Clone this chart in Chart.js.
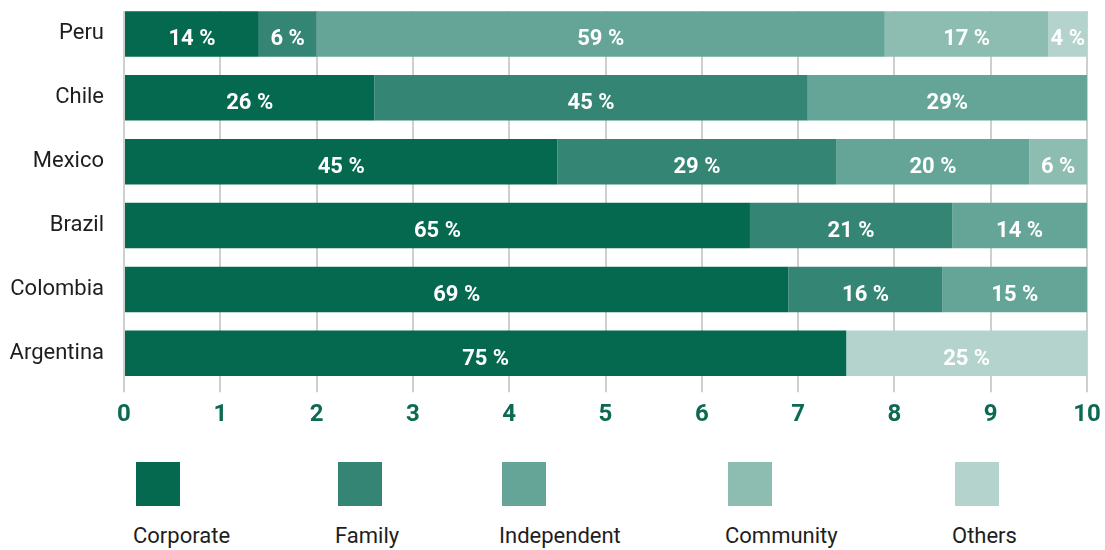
<!DOCTYPE html>
<html>
<head>
<meta charset="utf-8">
<title>Ownership structure by country</title>
<script src="https://cdn.jsdelivr.net/npm/chart.js@4.4.1/dist/chart.umd.min.js"></script>
<style>
  body { margin: 0; background: #fff; font-family: Roboto, sans-serif; }
  .page { position: relative; width: 1105px; height: 550px; overflow: hidden; }
  /* clip the bit of grid that would poke out above the first bar */
  .plot { position: absolute; left: 0; top: 11px; width: 1105px; height: 440px; overflow: hidden; }
  .plot canvas { position: absolute; left: 0; top: -11px; }
  .legend-item { position: absolute; top: 462px; }
  .legend-box { width: 44px; height: 44px; margin-left: 3px; }
  .legend-label { margin-top: 17px; font-size: 22px; line-height: 26px; color: #1e1e1e; white-space: nowrap; }
</style>
</head>
<body>
<div class="page">
  <div class="plot"><canvas id="chart" width="1105" height="437"></canvas></div>
  <div id="legend"></div>
</div>
<script>
const countries = ['Peru', 'Chile', 'Mexico', 'Brazil', 'Colombia', 'Argentina'];

// share of each ownership type, in percent
const corporate   = [14, 26, 45, 65, 69, 75];
const family      = [6, 45, 29, 21, 16, null];
const independent = [59, 29, 20, 14, 15, null];
const community   = [17, null, 6, null, null, null];
const others      = [4, null, null, null, null, 25];

const seriesNames  = ['Corporate', 'Family', 'Independent', 'Community', 'Others'];
const seriesData   = [corporate, family, independent, community, others];
const seriesColors = ['#04694f', '#358574', '#64a597', '#8dbcb0', '#b3d3cc'];

// the axis is labelled in tens of percent
const axisLabels = ['0', '1', '2', '3', '4', '5', '6', '7', '8', '9', '10'];

const legendLeft = [133, 335, 499, 725, 952];

function labelText(v, country, series) {
  if (country === 'Chile' && series === 'Independent') return v + '%';
  return v + ' %';
}

const segmentLabels = {
  id: 'segmentLabels',
  afterDatasetsDraw(chart) {
    const { ctx } = chart;
    ctx.save();
    ctx.font = 'bold 22px Roboto';
    ctx.fillStyle = '#ffffff';
    ctx.textAlign = 'center';
    ctx.textBaseline = 'middle';
    chart.data.datasets.forEach((ds, i) => {
      chart.getDatasetMeta(i).data.forEach((bar, j) => {
        const v = ds.data[j];
        if (v == null) return;
        ctx.fillText(labelText(v, countries[j], ds.label), (bar.x + bar.base) / 2, bar.y + 6);
      });
    });
    ctx.restore();
  }
};

new Chart(document.getElementById('chart'), {
  type: 'bar',
  data: {
    labels: countries,
    datasets: seriesNames.map((name, i) => ({
      label: name,
      data: seriesData[i],
      backgroundColor: seriesColors[i],
      borderWidth: 0,
      barPercentage: 0.713,
      categoryPercentage: 1
    }))
  },
  options: {
    indexAxis: 'y',
    responsive: false,
    animation: false,
    layout: { padding: { top: 2, right: 18, bottom: 0, left: 0 } },
    plugins: {
      legend: { display: false },
      tooltip: { enabled: false }
    },
    scales: {
      x: {
        stacked: true,
        min: 0,
        max: 100,
        grid: { color: '#cfcfcf', lineWidth: 2, tickLength: 7 },
        border: { display: false },
        ticks: {
          stepSize: 10,
          padding: 8,
          color: '#0c6a52',
          font: { family: 'Roboto', size: 24, weight: 'bold' },
          callback: (v, i) => axisLabels[i]
        },
        // edge room comes from layout.padding instead of the tick labels
        afterFit: (scale) => { scale.paddingLeft = 0; scale.paddingRight = 0; }
      },
      y: {
        stacked: true,
        grid: { display: false, drawTicks: false },
        border: { display: false },
        ticks: {
          padding: 20,
          color: '#1e1e1e',
          font: { family: 'Roboto', size: 22 }
        },
        afterFit: (scale) => {
          scale.width = 124;
          scale.paddingTop = 0;
          scale.paddingBottom = 0;
        }
      }
    }
  },
  plugins: [segmentLabels]
});

// legend: swatch on top, name underneath
const legend = document.getElementById('legend');
seriesNames.forEach((name, i) => {
  const item = document.createElement('div');
  item.className = 'legend-item';
  item.style.left = legendLeft[i] + 'px';
  item.innerHTML = '<div class="legend-box" style="background:' + seriesColors[i] + '"></div>' +
    '<div class="legend-label">' + name + '</div>';
  legend.appendChild(item);
});
</script>
</body>
</html>
